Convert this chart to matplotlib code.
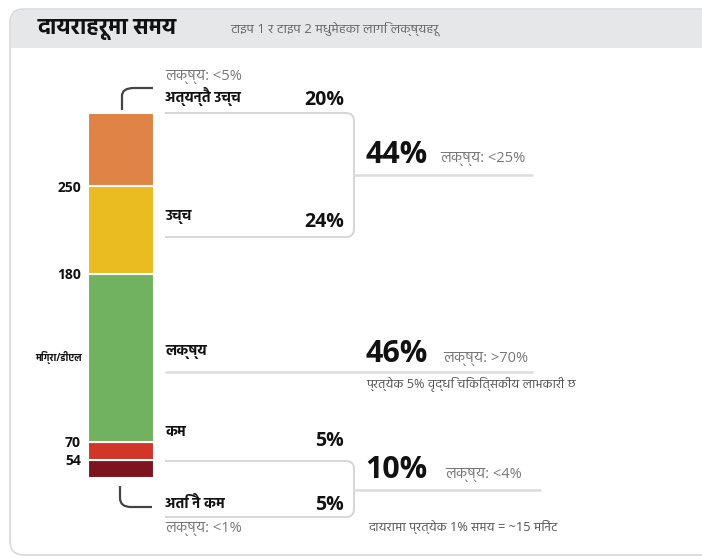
import matplotlib
matplotlib.use("Agg")
import matplotlib.pyplot as plt
from matplotlib.path import Path
from matplotlib.patches import PathPatch, FancyBboxPatch, Rectangle

plt.rcParams['font.family'] = ['Open Sans', 'Hind', 'Noto Sans Devanagari', 'Mukta', 'DejaVu Sans']

# data, top of the bar first
categories = ['अत्यन्तै उच्च', 'उच्च', 'लक्ष्य', 'कम', 'अति नै कम']
percents = [20, 24, 46, 5, 5]
colors = ['#df8446', '#ebbb22', '#70b25f', '#d13628', '#7e151e']
thresholds = [250, 180, 70, 54]          # mg/dL between segments, top to bottom
unit = 'मिग्रा/डीएल'

groups = [percents[0] + percents[1], percents[2], percents[3] + percents[4]]
group_targets = ['लक्ष्य: <25%', 'लक्ष्य: >70%', 'लक्ष्य: <4%']
top_target = 'लक्ष्य: <5%'
bottom_target = 'लक्ष्य: <1%'

title = 'दायराहरूमा समय'
subtitle = 'टाइप 1 र टाइप 2 मधुमेहका लागि लक्ष्यहरू'
note_target = 'प्रत्येक 5% वृद्धि चिकित्सकीय लाभकारी छ'
note_minutes = 'दायरामा प्रत्येक 1% समय = ~15 मिनेट'

W, H = 702, 559
fig = plt.figure(figsize=(W / 100, H / 100), dpi=100)

# overlay in pixel coordinates for the card, labels and brackets
ov = fig.add_axes([0, 0, 1, 1], zorder=0)
ov.set_xlim(0, W)
ov.set_ylim(H, 0)
ov.axis('off')

card = FancyBboxPatch((10, 9), 720, 546, boxstyle='round,pad=0,rounding_size=14',
                      fc='white', ec='#d9d9d9', lw=1.2)
ov.add_patch(card)
head = FancyBboxPatch((11, 10), 718, 38, boxstyle='round,pad=0,rounding_size=13',
                      fc='#e6e7e8', ec='none')
ov.add_patch(head)
ov.add_patch(Rectangle((11, 30), 718, 18, fc='#e6e7e8', ec='none'))
ov.text(38, 30, title, fontsize=16, fontweight='bold', va='center', color='#111')
ov.text(230, 29, subtitle, fontsize=9.5, va='center', color='#666')


def seg_path(pts, codes, **kw):
    ov.add_patch(PathPatch(Path(pts, codes), fill=False, **kw))


L, C, Q = Path.LINETO, Path.CURVE3, Path.MOVETO
# brackets from the bar to the outer labels
seg_path([(122, 110), (122, 96), (122, 88), (134, 88), (153, 88)], [Q, L, C, C, L], ec='#444', lw=1.6)
seg_path([(120, 486), (120, 498), (120, 507), (131, 507), (152, 507)], [Q, L, C, C, L], ec='#444', lw=1.6)


def group_box(y0, y1, x0=165, x1=354, r=8):
    pts = [(x0, y0), (x1 - r, y0), (x1, y0), (x1, y0 + r), (x1, y1 - r),
           (x1, y1), (x1 - r, y1), (x0, y1)]
    codes = [Q, L, C, C, L, C, C, L]
    seg_path(pts, codes, ec='#d6d6d6', lw=1.4)


group_box(113, 237)
group_box(461, 517)

line_kw = dict(color='#dcdcdc', lw=1.8, solid_capstyle='butt')
ov.plot([354, 533], [175, 175], **line_kw)
ov.plot([165, 533], [372, 372], **line_kw)
ov.plot([354, 541], [490, 490], **line_kw)

# category labels and their percentages
cat_y = [97, 217, 352, 432, 503]
pct_y = [100, 222, None, 441, 505]
for name, p, cy, py in zip(categories, percents, cat_y, pct_y):
    ov.text(165, cy, name, fontsize=10.5, fontweight='bold', va='center', color='#111')
    if py is not None:
        ov.text(344, py, f'{p}%', fontsize=14, fontweight='bold', va='center', ha='right', color='#111')

ov.text(165, 77, top_target, fontsize=10.5, va='center', color='#777')
ov.text(165, 529, bottom_target, fontsize=10.5, va='center', color='#777')

# grouped totals
big_y = [155, 354, 470]
tgt_x = [440, 443, 445]
for g, t, y, tx in zip(groups, group_targets, big_y, tgt_x):
    ov.text(365, y, f'{g}%', fontsize=22, fontweight='bold', va='center', color='#111')
    ov.text(tx, y + 4, t, fontsize=10.5, va='center', color='#777')
ov.text(366, 384, note_target, fontsize=9.2, va='center', color='#555')
ov.text(368, 527, note_minutes, fontsize=9.2, va='center', color='#555')

# stacked bar, bottom segment first
ax = fig.add_axes([88 / W, 1 - 478 / H, 66 / W, 365 / H], zorder=2)
ax.patch.set_alpha(0)
bottom = 0
edges = []
mids = []
for p, c in zip(percents[::-1], colors[::-1]):
    ax.bar(0, p, bottom=bottom, width=1, color=c, edgecolor='white', linewidth=1.5)
    mids.append(bottom + p / 2)
    bottom += p
    edges.append(bottom)
ax.set_xlim(-0.5, 0.5)
ax.set_ylim(0, 100)
ax.set_xticks([])
ax.set_yticks(edges[:len(thresholds)], [str(v) for v in thresholds[::-1]],
              fontsize=10, fontweight='bold')
ax.tick_params(axis='y', length=0, pad=5, colors='#111')
for s in ax.spines.values():
    s.set_visible(False)
ax.text(-0.09, mids[2], unit, transform=ax.get_yaxis_transform(), ha='right', va='center',
        fontsize=7, fontweight='bold', color='#111')

fig.savefig('out.png', dpi=100)
